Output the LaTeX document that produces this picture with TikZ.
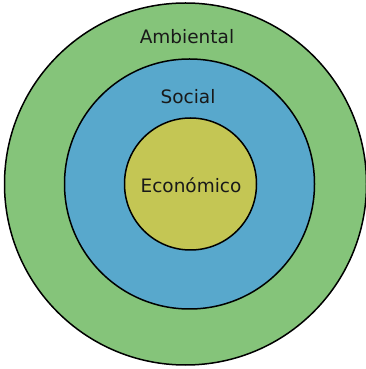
\documentclass[tikz,border=0pt]{standalone}
\usepackage{fontspec}
\setmainfont{DejaVu Sans}
\definecolor{envgreen}{RGB}{133,196,122}
\definecolor{socblue}{RGB}{88,168,204}
\definecolor{ecoyellow}{RGB}{196,198,84}
\begin{document}
\begin{tikzpicture}[x=1pt,y=1pt,
  ring/.style={circle,draw=black,line width=1.5pt,inner sep=0pt},
  lbl/.style={font=\fontsize{18.5}{22}\selectfont,text=black!90}]
\useasboundingbox[fill=white] (0,0) rectangle (365,369);
\node[ring,fill=envgreen,minimum size=362pt] (amb) at (185.5,185) {};
\node[ring,fill=socblue,minimum size=250pt] (soc) at (189.5,185) {};
\node[ring,fill=ecoyellow,minimum size=132pt] (eco) at (190.5,185) {};
\node[lbl] (tamb) at (187,332) {Ambiental};
\node[lbl] (tsoc) at (188,272) {Social};
\node[lbl] (teco) at (191,184) {Económico};
\end{tikzpicture}
\end{document}
